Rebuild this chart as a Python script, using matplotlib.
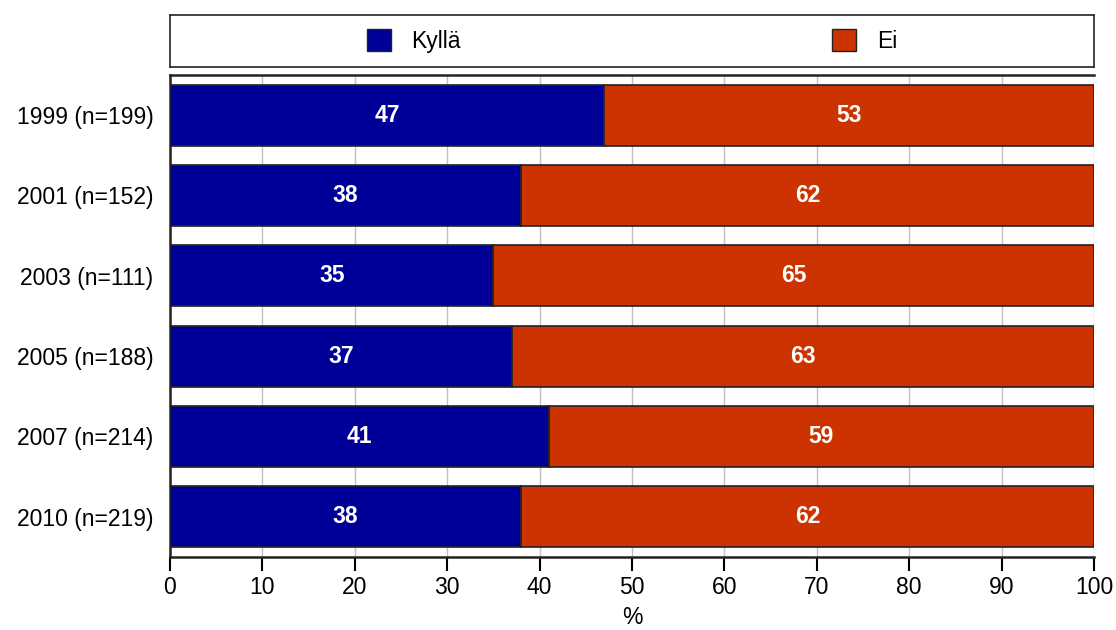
import numpy as np
import matplotlib.pyplot as plt
from matplotlib.patches import Patch

plt.rcParams['font.family'] = ['Liberation Sans', 'DejaVu Sans']

years = ['1999 (n=199)', '2001 (n=152)', '2003 (n=111)',
         '2005 (n=188)', '2007 (n=214)', '2010 (n=219)']
kylla = [47, 38, 35, 37, 41, 38]
ei = [53, 62, 65, 63, 59, 62]

blue = '#000099'
red = '#cc3300'
fs = 16.5

fig = plt.figure(figsize=(11.16, 6.3), dpi=100)
ax = fig.add_axes([0.1523, 0.1159, 0.828, 0.7651])

y = np.arange(len(years))
ax.barh(y, kylla, height=0.76, color=blue, edgecolor='#222222', linewidth=1.2, zorder=3)
ax.barh(y, ei, left=kylla, height=0.76, color=red, edgecolor='#222222', linewidth=1.2, zorder=3)

for i in range(len(years)):
    ax.text(kylla[i] / 2, y[i], str(kylla[i]), color='white', fontsize=fs,
            fontweight='bold', ha='center', va='center', zorder=4)
    ax.text(kylla[i] + ei[i] / 2, y[i], str(ei[i]), color='white', fontsize=fs,
            fontweight='bold', ha='center', va='center', zorder=4)

ax.set_xlim(0, 100)
ax.set_ylim(len(years) - 0.5, -0.5)
ax.set_yticks(y)
ax.set_yticklabels(years, fontsize=fs)
ax.set_xticks(np.arange(0, 101, 10))
ax.tick_params(axis='x', labelsize=fs, length=10, width=1.5, direction='out', pad=4)
ax.tick_params(axis='y', length=0, pad=12)
ax.grid(axis='x', color='#c0c0c0', linewidth=1, zorder=0)
ax.spines['right'].set_visible(False)
for s in ['left', 'bottom', 'top']:
    ax.spines[s].set_linewidth(1.8)
    ax.spines[s].set_color('#222222')
ax.set_xlabel('%', fontsize=fs, labelpad=5)

# legend box
lax = fig.add_axes([0.1523, 0.8937, 0.828, 0.0825])
lax.set_xticks([])
lax.set_yticks([])
for s in lax.spines.values():
    s.set_linewidth(1.2)
    s.set_color('#222222')
handles = [Patch(facecolor=blue, edgecolor='#222222', label='Kyllä'),
           Patch(facecolor=red, edgecolor='#222222', label='Ei')]
lax.legend(handles=handles, loc='center', ncol=2, frameon=False, fontsize=fs,
           handlelength=1.05, handleheight=1.05, handletextpad=0.9,
           columnspacing=16.2, bbox_to_anchor=(0.5, 0.5))

fig.savefig('out.png', dpi=100)
